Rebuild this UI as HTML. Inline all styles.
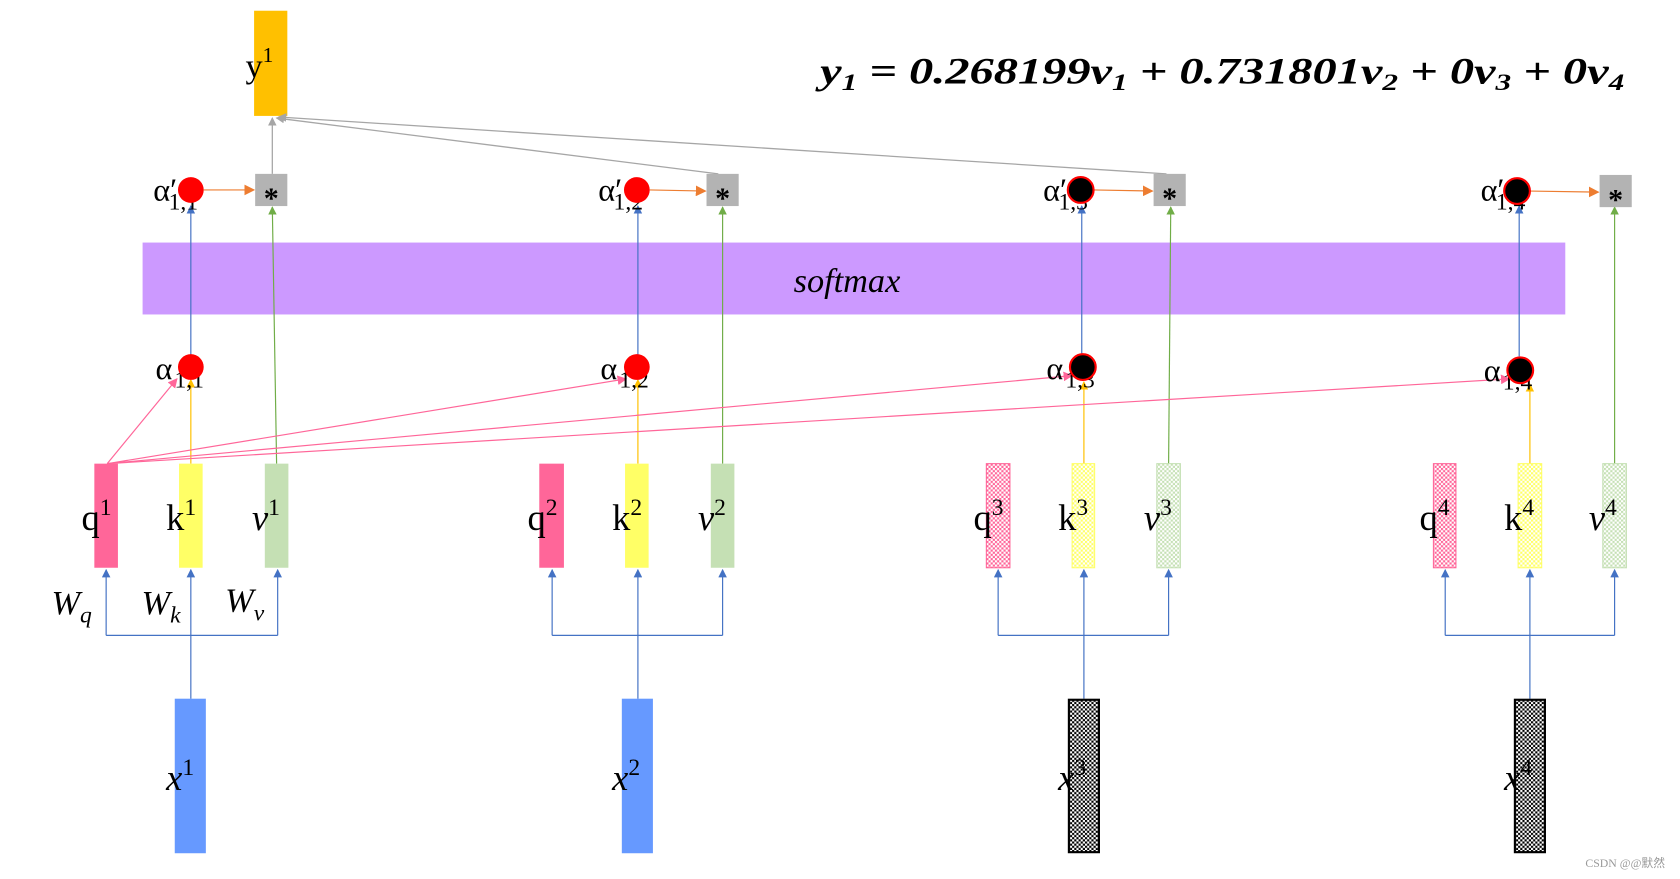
<!DOCTYPE html>
<html><head><meta charset="utf-8"><style>
html,body{margin:0;padding:0;background:#fff;}
svg{display:block;}
text{font-family:"Liberation Serif",serif;}
</style></head><body>
<svg width="1680" height="879" viewBox="0 0 1567 819" preserveAspectRatio="none" xmlns="http://www.w3.org/2000/svg">
<defs>
<pattern id="pq" width="4" height="4" patternUnits="userSpaceOnUse"><rect width="4" height="4" fill="#fff"/><rect width="2" height="2" fill="#FF6699"/><rect x="2" y="2" width="2" height="2" fill="#FF6699"/></pattern>
<pattern id="pk" width="4" height="4" patternUnits="userSpaceOnUse"><rect width="4" height="4" fill="#fff"/><rect width="2" height="2" fill="#FFFF66"/><rect x="2" y="2" width="2" height="2" fill="#FFFF66"/></pattern>
<pattern id="pv" width="4" height="4" patternUnits="userSpaceOnUse"><rect width="4" height="4" fill="#fff"/><rect width="2" height="2" fill="#C5E0B4"/><rect x="2" y="2" width="2" height="2" fill="#C5E0B4"/></pattern>
<pattern id="px" width="4" height="4" patternUnits="userSpaceOnUse"><rect width="4" height="4" fill="#fff"/><rect width="2" height="2" fill="#000"/><rect x="2" y="2" width="2" height="2" fill="#000"/></pattern>
<marker id="ab" markerWidth="8" markerHeight="8" refX="7" refY="4" orient="auto" markerUnits="userSpaceOnUse"><path d="M0,0 L8,4 L0,8z" fill="#4472C4"/></marker>
<marker id="ao" markerWidth="10" markerHeight="10" refX="9" refY="5" orient="auto" markerUnits="userSpaceOnUse"><path d="M0,0 L10,5 L0,10z" fill="#ED7D31"/></marker>
<marker id="ag" markerWidth="8" markerHeight="8" refX="7" refY="4" orient="auto" markerUnits="userSpaceOnUse"><path d="M0,0 L8,4 L0,8z" fill="#70AD47"/></marker>
<marker id="ay" markerWidth="8" markerHeight="8" refX="7" refY="4" orient="auto" markerUnits="userSpaceOnUse"><path d="M0,0 L8,4 L0,8z" fill="#FFC000"/></marker>
<marker id="ap" markerWidth="9" markerHeight="9" refX="8" refY="4.5" orient="auto" markerUnits="userSpaceOnUse"><path d="M0,0 L9,4.5 L0,9z" fill="#FF6699"/></marker>
<marker id="agr" markerWidth="8" markerHeight="8" refX="7" refY="4" orient="auto" markerUnits="userSpaceOnUse"><path d="M0,0 L8,4 L0,8z" fill="#A6A6A6"/></marker>
</defs>

<rect x="237" y="10" width="31" height="98" fill="#FFC000"/>
<text x="229" y="72" font-size="32">y<tspan font-size="20" dy="-14">1</tspan></text>
<text x="765" y="78" font-size="34" font-weight="bold" font-style="italic" textLength="750" lengthAdjust="spacingAndGlyphs">y<tspan font-size="22" dy="6">1</tspan><tspan dy="-6"> = 0.268199v</tspan><tspan font-size="22" dy="6">1</tspan><tspan dy="-6"> + 0.731801v</tspan><tspan font-size="22" dy="6">2</tspan><tspan dy="-6"> + 0v</tspan><tspan font-size="22" dy="6">3</tspan><tspan dy="-6"> + 0v</tspan><tspan font-size="22" dy="6">4</tspan></text>

<g stroke="#A6A6A6" stroke-width="1.2" fill="none">
<line x1="254" y1="162" x2="254" y2="110" marker-end="url(#agr)"/>
<line x1="670" y1="162" x2="258" y2="110" marker-end="url(#agr)"/>
<line x1="1088" y1="162" x2="260" y2="109" marker-end="url(#agr)"/>
</g>

<rect x="133" y="226" width="1327" height="67" fill="#CC99FF"/>
<text x="790" y="272" font-size="32" font-style="italic" text-anchor="middle">softmax</text>

<g stroke-width="1.1" fill="none">
<line x1="178" y1="332" x2="178" y2="192" stroke="#4472C4" marker-end="url(#ab)"/>
<line x1="595" y1="332" x2="595" y2="192" stroke="#4472C4" marker-end="url(#ab)"/>
<line x1="1009" y1="332" x2="1009" y2="192" stroke="#4472C4" marker-end="url(#ab)"/>
<line x1="1417" y1="332" x2="1417" y2="192" stroke="#4472C4" marker-end="url(#ab)"/>
<line x1="258" y1="432" x2="254" y2="193" stroke="#70AD47" marker-end="url(#ag)"/>
<line x1="674" y1="432" x2="674" y2="193" stroke="#70AD47" marker-end="url(#ag)"/>
<line x1="1090" y1="432" x2="1092" y2="193" stroke="#70AD47" marker-end="url(#ag)"/>
<line x1="1506" y1="432" x2="1506" y2="193" stroke="#70AD47" marker-end="url(#ag)"/>
<line x1="178" y1="432" x2="178" y2="354" stroke="#FFC000" marker-end="url(#ay)"/>
<line x1="595" y1="432" x2="595" y2="354" stroke="#FFC000" marker-end="url(#ay)"/>
<line x1="1011" y1="432" x2="1011" y2="356" stroke="#FFC000" marker-end="url(#ay)"/>
<line x1="1427" y1="432" x2="1427" y2="358" stroke="#FFC000" marker-end="url(#ay)"/>
<line x1="100" y1="432" x2="165" y2="353" stroke="#FF6699" marker-end="url(#ap)"/>
<line x1="100" y1="432" x2="584" y2="353" stroke="#FF6699" marker-end="url(#ap)"/>
<line x1="100" y1="432" x2="1000" y2="350" stroke="#FF6699" marker-end="url(#ap)"/>
<line x1="100" y1="432" x2="1408" y2="353" stroke="#FF6699" marker-end="url(#ap)"/>
<line x1="190" y1="177" x2="237" y2="177" stroke="#ED7D31" marker-end="url(#ao)"/>
<line x1="606" y1="177" x2="658" y2="178" stroke="#ED7D31" marker-end="url(#ao)"/>
<line x1="1020" y1="177" x2="1075" y2="178" stroke="#ED7D31" marker-end="url(#ao)"/>
<line x1="1427" y1="178" x2="1491" y2="179" stroke="#ED7D31" marker-end="url(#ao)"/>
</g>

<g fill="#B3B3B3">
<rect x="238" y="162" width="30" height="30"/>
<rect x="659" y="162" width="30" height="30"/>
<rect x="1076" y="162" width="30" height="30"/>
<rect x="1492" y="163" width="30" height="30"/>
</g>
<g font-size="28" font-family="Liberation Sans" text-anchor="middle" font-weight="bold">
<text x="253" y="194">*</text><text x="674" y="194">*</text><text x="1091" y="194">*</text><text x="1507" y="195">*</text>
</g>

<g font-size="30">
<text x="143" y="187">α′<tspan font-size="22" dx="-8" dy="8">1,1</tspan></text>
<text x="558" y="187">α′<tspan font-size="22" dx="-8" dy="8">1,2</tspan></text>
<text x="973" y="187">α′<tspan font-size="22" dx="-8" dy="8">1,3</tspan></text>
<text x="1381" y="187">α′<tspan font-size="22" dx="-8" dy="8">1,4</tspan></text>
</g>
<circle cx="178" cy="177" r="12" fill="#FF0000"/>
<circle cx="594" cy="177" r="12" fill="#FF0000"/>
<circle cx="1008" cy="177" r="12" fill="#000" stroke="#FF0000" stroke-width="2"/>
<circle cx="1415" cy="178" r="12" fill="#000" stroke="#FF0000" stroke-width="2"/>

<g font-size="30">
<text x="145" y="353">α<tspan font-size="22" dx="2" dy="8">1,1</tspan></text>
<text x="560" y="353">α<tspan font-size="22" dx="2" dy="8">1,2</tspan></text>
<text x="976" y="353">α<tspan font-size="22" dx="2" dy="8">1,3</tspan></text>
<text x="1384" y="355">α<tspan font-size="22" dx="2" dy="8">1,4</tspan></text>
</g>
<circle cx="178" cy="342" r="12" fill="#FF0000"/>
<circle cx="594" cy="342" r="12" fill="#FF0000"/>
<circle cx="1010" cy="342" r="12" fill="#000" stroke="#FF0000" stroke-width="2"/>
<circle cx="1418" cy="345" r="12" fill="#000" stroke="#FF0000" stroke-width="2"/>

<rect x="88" y="432" width="22" height="97" fill="#FF6699"/>
<rect x="167" y="432" width="22" height="97" fill="#FFFF66"/>
<rect x="247" y="432" width="22" height="97" fill="#C5E0B4"/>
<rect x="503" y="432" width="23" height="97" fill="#FF6699"/>
<rect x="583" y="432" width="22" height="97" fill="#FFFF66"/>
<rect x="663" y="432" width="22" height="97" fill="#C5E0B4"/>
<rect x="920" y="432" width="22" height="97" fill="url(#pq)" stroke="#FF6699"/>
<rect x="1000" y="432" width="21" height="97" fill="url(#pk)" stroke="#FFFF66"/>
<rect x="1079" y="432" width="22" height="97" fill="url(#pv)" stroke="#C5E0B4"/>
<rect x="1337" y="432" width="21" height="97" fill="url(#pq)" stroke="#FF6699"/>
<rect x="1416" y="432" width="22" height="97" fill="url(#pk)" stroke="#FFFF66"/>
<rect x="1495" y="432" width="22" height="97" fill="url(#pv)" stroke="#C5E0B4"/>

<g font-size="34">
<text x="76" y="494">q<tspan font-size="22" dy="-14">1</tspan></text>
<text x="155" y="494">k<tspan font-size="22" dy="-14">1</tspan></text>
<text x="235" y="494" font-style="italic">v<tspan font-size="22" dy="-14" font-style="normal">1</tspan></text>
<text x="492" y="494">q<tspan font-size="22" dy="-14">2</tspan></text>
<text x="571" y="494">k<tspan font-size="22" dy="-14">2</tspan></text>
<text x="651" y="494" font-style="italic">v<tspan font-size="22" dy="-14" font-style="normal">2</tspan></text>
<text x="908" y="494">q<tspan font-size="22" dy="-14">3</tspan></text>
<text x="987" y="494">k<tspan font-size="22" dy="-14">3</tspan></text>
<text x="1067" y="494" font-style="italic">v<tspan font-size="22" dy="-14" font-style="normal">3</tspan></text>
<text x="1324" y="494">q<tspan font-size="22" dy="-14">4</tspan></text>
<text x="1403" y="494">k<tspan font-size="22" dy="-14">4</tspan></text>
<text x="1482" y="494" font-style="italic">v<tspan font-size="22" dy="-14" font-style="normal">4</tspan></text>
</g>

<g font-size="32" font-style="italic">
<text x="48" y="572">W<tspan font-size="22" dy="8">q</tspan></text>
<text x="132" y="572">W<tspan font-size="22" dy="8">k</tspan></text>
<text x="210" y="570">W<tspan font-size="22" dy="8">v</tspan></text>
</g>

<g stroke="#4472C4" stroke-width="1.1" fill="none">
<path d="M99,592 H259"/><line x1="99" y1="592" x2="99" y2="531" marker-end="url(#ab)"/><line x1="259" y1="592" x2="259" y2="531" marker-end="url(#ab)"/><line x1="178" y1="651" x2="178" y2="531" marker-end="url(#ab)"/>
<path d="M515,592 H674"/><line x1="515" y1="592" x2="515" y2="531" marker-end="url(#ab)"/><line x1="674" y1="592" x2="674" y2="531" marker-end="url(#ab)"/><line x1="595" y1="651" x2="595" y2="531" marker-end="url(#ab)"/>
<path d="M931,592 H1090"/><line x1="931" y1="592" x2="931" y2="531" marker-end="url(#ab)"/><line x1="1090" y1="592" x2="1090" y2="531" marker-end="url(#ab)"/><line x1="1011" y1="651" x2="1011" y2="531" marker-end="url(#ab)"/>
<path d="M1348,592 H1506"/><line x1="1348" y1="592" x2="1348" y2="531" marker-end="url(#ab)"/><line x1="1506" y1="592" x2="1506" y2="531" marker-end="url(#ab)"/><line x1="1427" y1="651" x2="1427" y2="531" marker-end="url(#ab)"/>
</g>

<rect x="163" y="651" width="29" height="144" fill="#6699FF"/>
<rect x="580" y="651" width="29" height="144" fill="#6699FF"/>
<rect x="997" y="652" width="28" height="142" fill="url(#px)" stroke="#000" stroke-width="2"/>
<rect x="1413" y="652" width="28" height="142" fill="url(#px)" stroke="#000" stroke-width="2"/>
<g font-size="34" font-style="italic">
<text x="155" y="736">x<tspan font-size="22" dy="-14" font-style="normal">1</tspan></text>
<text x="571" y="736">x<tspan font-size="22" dy="-14" font-style="normal">2</tspan></text>
<text x="987" y="736">x<tspan font-size="22" dy="-14" font-style="normal">3</tspan></text>
<text x="1403" y="736">x<tspan font-size="22" dy="-14" font-style="normal">4</tspan></text>
</g>
<text x="1553" y="808" font-size="11" fill="#999" text-anchor="end" font-family="Liberation Sans, 'Noto Sans CJK SC', sans-serif">CSDN @@默然</text>
</svg>
</body></html>
